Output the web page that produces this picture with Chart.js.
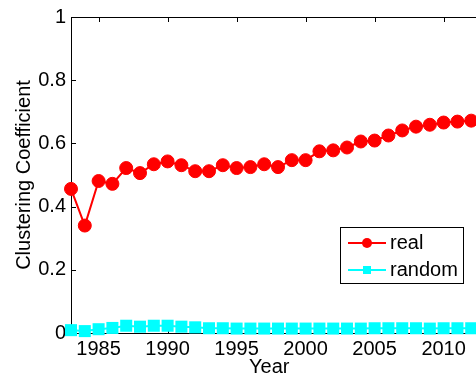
<!DOCTYPE html>
<html>
<head>
<meta charset="utf-8">
<script src="https://cdn.jsdelivr.net/npm/chart.js@4.4.1/dist/chart.umd.min.js"></script>
<style>
  html, body { margin: 0; padding: 0; background: #fff; }
  #cc { display: block; }
</style>
</head>
<body>
<canvas id="cc" width="476" height="377"></canvas>
<script>
// yearly clustering coefficient, real network vs random graph
const years = [1983, 1984, 1985, 1986, 1987, 1988, 1989, 1990, 1991, 1992,
               1993, 1994, 1995, 1996, 1997, 1998, 1999, 2000, 2001, 2002,
               2003, 2004, 2005, 2006, 2007, 2008, 2009, 2010, 2011, 2012];
const realCC = [0.456, 0.340, 0.481, 0.472, 0.522, 0.506, 0.534, 0.543, 0.531, 0.512,
                0.512, 0.531, 0.522, 0.525, 0.534, 0.525, 0.547, 0.547, 0.575, 0.578,
                0.587, 0.606, 0.609, 0.625, 0.641, 0.653, 0.659, 0.666, 0.669, 0.672];
const randomCC = [0.009, 0.006, 0.012, 0.016, 0.023, 0.020, 0.023, 0.023, 0.020, 0.018,
                  0.015, 0.015, 0.014, 0.014, 0.014, 0.014, 0.014, 0.014, 0.014, 0.014,
                  0.014, 0.014, 0.015, 0.015, 0.015, 0.015, 0.014, 0.015, 0.015, 0.015];
const xTicks = [1985, 1990, 1995, 2000, 2005, 2010];
const yTicks = [0, 0.2, 0.4, 0.6, 0.8, 1];
const yTickLabels = ['0', '0.2', '0.4', '0.6', '0.8', '1'];

const FONT = 'Liberation Sans, Arial, Helvetica, sans-serif';

// matlab style box: left, top and bottom edges with inward ticks, drawn under the data
const axesBox = {
    id: 'axesBox',
    beforeDatasetsDraw(chart) {
        const ctx = chart.ctx;
        const a = chart.chartArea;
        const xs = chart.scales.x, ys = chart.scales.y;
        const tl = 5;
        ctx.save();
        ctx.strokeStyle = '#000';
        ctx.lineWidth = 1;
        ctx.beginPath();
        ctx.moveTo(chart.width, a.top + 0.5);
        ctx.lineTo(a.left + 0.5, a.top + 0.5);
        ctx.lineTo(a.left + 0.5, a.bottom + 0.5);
        ctx.lineTo(chart.width, a.bottom + 0.5);
        xTicks.forEach(v => {
            const px = Math.round(xs.getPixelForValue(v)) + 0.5;
            ctx.moveTo(px, a.top);
            ctx.lineTo(px, a.top + tl);
            ctx.moveTo(px, a.bottom);
            ctx.lineTo(px, a.bottom - tl);
        });
        yTicks.forEach(v => {
            const py = Math.round(ys.getPixelForValue(v)) + 0.5;
            ctx.moveTo(a.left, py);
            ctx.lineTo(a.left + tl, py);
        });
        ctx.stroke();
        ctx.restore();
    }
};

// boxed legend in the lower right of the plot
const boxLegend = {
    id: 'boxLegend',
    afterDraw(chart) {
        const ctx = chart.ctx;
        const bx = 340.5, by = 227.5, bw = 123, bh = 56;
        ctx.save();
        ctx.fillStyle = '#fff';
        ctx.fillRect(bx, by, bw, bh);
        ctx.strokeStyle = '#000';
        ctx.lineWidth = 1;
        ctx.strokeRect(bx, by, bw, bh);
        const rows = [243, 270];
        chart.data.datasets.forEach((ds, i) => {
            const y = rows[i];
            ctx.strokeStyle = ds.borderColor;
            ctx.lineWidth = 2;
            ctx.beginPath();
            ctx.moveTo(348, y);
            ctx.lineTo(386, y);
            ctx.stroke();
            ctx.fillStyle = ds.backgroundColor;
            if (ds.pointStyle === 'rect') {
                ctx.fillRect(367 - 4, y - 4, 8, 8);
            } else {
                ctx.beginPath();
                ctx.arc(367, y, 5, 0, Math.PI * 2);
                ctx.fill();
            }
            ctx.fillStyle = '#000';
            ctx.font = '20px ' + FONT;
            ctx.textBaseline = 'middle';
            ctx.textAlign = 'left';
            ctx.fillText(ds.label, 390, y);
        });
        ctx.restore();
    }
};

new Chart(document.getElementById('cc'), {
    type: 'line',
    data: {
        datasets: [
            {
                label: 'real',
                data: years.map((y, i) => ({ x: y, y: realCC[i] })),
                borderColor: '#ff0000',
                backgroundColor: '#ff0000',
                borderWidth: 2,
                pointStyle: 'circle',
                pointRadius: 6.5,
                pointBorderWidth: 1,
                pointBorderColor: '#ff0000',
                pointBackgroundColor: '#ff0000',
                clip: false
            },
            {
                label: 'random',
                data: years.map((y, i) => ({ x: y, y: randomCC[i] })),
                borderColor: '#00ffff',
                backgroundColor: '#00ffff',
                borderWidth: 2,
                pointStyle: 'rect',
                pointRadius: 8.5,
                pointBorderWidth: 0,
                pointBackgroundColor: '#00ffff',
                clip: false
            }
        ]
    },
    options: {
        responsive: false,
        animation: false,
        layout: { padding: { top: 13, right: 0, left: 0, bottom: 0 } },
        plugins: {
            legend: { display: false },
            tooltip: { enabled: false }
        },
        scales: {
            x: {
                type: 'linear',
                min: 1983,
                max: 2011.73,
                grid: { display: false, drawTicks: false },
                border: { display: false },
                afterBuildTicks: s => { s.ticks = xTicks.map(v => ({ value: v })); },
                afterFit: s => { s.height = 44; },
                ticks: {
                    color: '#000',
                    padding: 4,
                    maxRotation: 0,
                    autoSkip: false,
                    font: { family: FONT, size: 20 },
                    callback: v => String(v)
                },
                title: {
                    display: true,
                    text: 'Year',
                    color: '#000',
                    font: { family: FONT, size: 20, lineHeight: 1 },
                    padding: { top: 0, bottom: 0 }
                }
            },
            y: {
                min: 0,
                max: 1,
                grid: { display: false, drawTicks: false },
                border: { display: false },
                afterBuildTicks: s => { s.ticks = yTicks.map(v => ({ value: v })); },
                afterFit: s => { s.width = 71; },
                ticks: {
                    color: '#000',
                    padding: 5,
                    font: { family: FONT, size: 20 },
                    callback: (v, i) => yTickLabels[i]
                },
                title: {
                    display: true,
                    text: 'Clustering Coefficient',
                    color: '#000',
                    font: { family: FONT, size: 20, lineHeight: 1 },
                    padding: { top: 14, bottom: 0 }
                }
            }
        }
    },
    plugins: [axesBox, boxLegend]
});
</script>
</body>
</html>
